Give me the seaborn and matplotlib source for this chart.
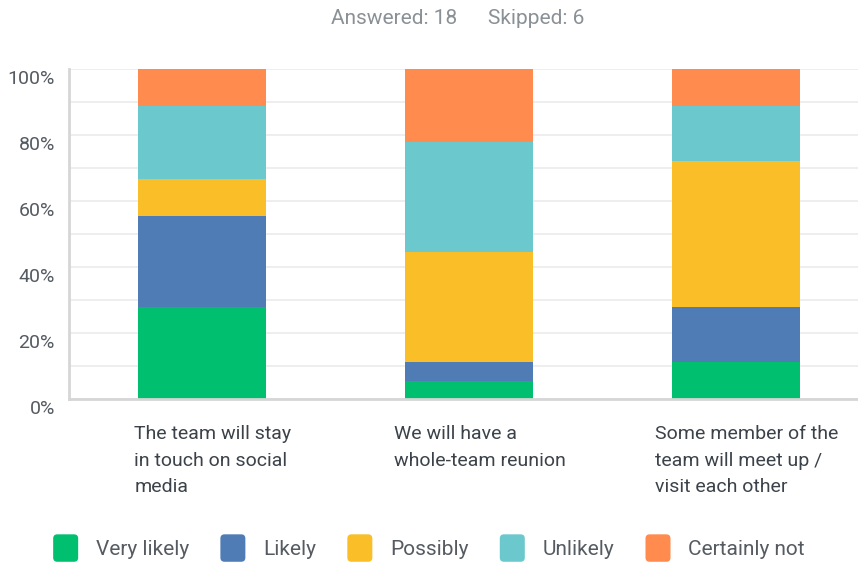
import numpy as np
import pandas as pd
import matplotlib
matplotlib.use("Agg")
import matplotlib.pyplot as plt
import matplotlib.transforms as mtransforms
from matplotlib.patches import Patch, FancyBboxPatch
from matplotlib.legend_handler import HandlerPatch
import seaborn as sns

# ---- data ----
questions = [
    "The team will stay\nin touch on social\nmedia",
    "We will have a\nwhole-team reunion",
    "Some member of the\nteam will meet up /\nvisit each other",
]
answers = ["Very likely", "Likely", "Possibly", "Unlikely", "Certainly not"]
very_likely = [27.78, 5.56, 11.11]
likely = [27.78, 5.56, 16.67]
possibly = [11.11, 33.33, 44.44]
unlikely = [22.22, 33.33, 16.67]
certainly_not = [11.11, 22.22, 11.11]
colors = ["#00bf6f", "#507cb6", "#f9be28", "#6bc8cd", "#ff8b4f"]
yticks = [0, 20, 40, 60, 80, 100]
title_text = "Answered: 18      Skipped: 6"

sns.set_theme(style="white")
plt.rcParams["font.family"] = ["Roboto", "DejaVu Sans"]

series = [very_likely, likely, possibly, unlikely, certainly_not]
cum = np.cumsum(np.array(series), axis=0)

fig = plt.figure(figsize=(8.58, 5.65), dpi=100)
ax = fig.add_axes([0.08, 0.2938, 0.92, 0.5841])

keys = [f"q{i}" for i in range(len(questions))]
for k in range(len(answers) - 1, -1, -1):
    df = pd.DataFrame({"q": keys, "v": cum[k]})
    sns.barplot(data=df, x="q", y="v", color=colors[k], width=0.48,
                saturation=1, ax=ax, linewidth=0, order=keys)

ax.set_ylim(0, 100)
ax.set_xlim(-0.5, 2.457)
ax.set_yticks(yticks)
ax.set_yticks(np.arange(0, 101, 10), minor=True)
ax.set_yticklabels([f"{t}%" for t in yticks])
ax.grid(axis="y", which="both", color="#ebebeb", linewidth=1.2)
ax.set_axisbelow(True)
ax.set_xlabel("")
ax.set_ylabel("")
ax.set_xticks([])
ax.tick_params(axis="y", which="both", length=0, pad=10,
               labelsize=14, labelcolor="#555b61")
offset = mtransforms.ScaledTranslation(0, -0.08, fig.dpi_scale_trans)
for lab in ax.get_yticklabels():
    lab.set_transform(lab.get_transform() + offset)

for s in ["top", "right"]:
    ax.spines[s].set_visible(False)
for s in ["left", "bottom"]:
    ax.spines[s].set_color("#d6d6d6")
    ax.spines[s].set_linewidth(2)

trans = mtransforms.blended_transform_factory(ax.transData, ax.transAxes)
for i, q in enumerate(questions):
    ax.text(i + 0.041, -0.08, q, transform=trans, ha="center", va="top",
            multialignment="left", fontsize=14, color="#3b4249",
            linespacing=1.6)

fig.text(0.534, 0.968, title_text, ha="center", va="center",
         fontsize=15, color="#8a9196")


class RoundHandler(HandlerPatch):
    def create_artists(self, legend, orig_handle, xdescent, ydescent,
                       width, height, fontsize, trans):
        p = FancyBboxPatch((-xdescent, -ydescent), width, height,
                           boxstyle="round,pad=0,rounding_size=3",
                           facecolor=orig_handle.get_facecolor(),
                           edgecolor="none", transform=trans)
        return [p]


handles = [Patch(facecolor=c, edgecolor=c, label=a) for c, a in zip(colors, answers)]
fig.legend(handles=handles, loc="center", bbox_to_anchor=(0.5, 0.03), ncol=5,
           frameon=False, fontsize=15, handlelength=1.2, handleheight=1.65,
           handletextpad=0.85, columnspacing=1.5, labelcolor="#555b61",
           handler_map={Patch: RoundHandler()})

fig.savefig("out.png", dpi=100)
